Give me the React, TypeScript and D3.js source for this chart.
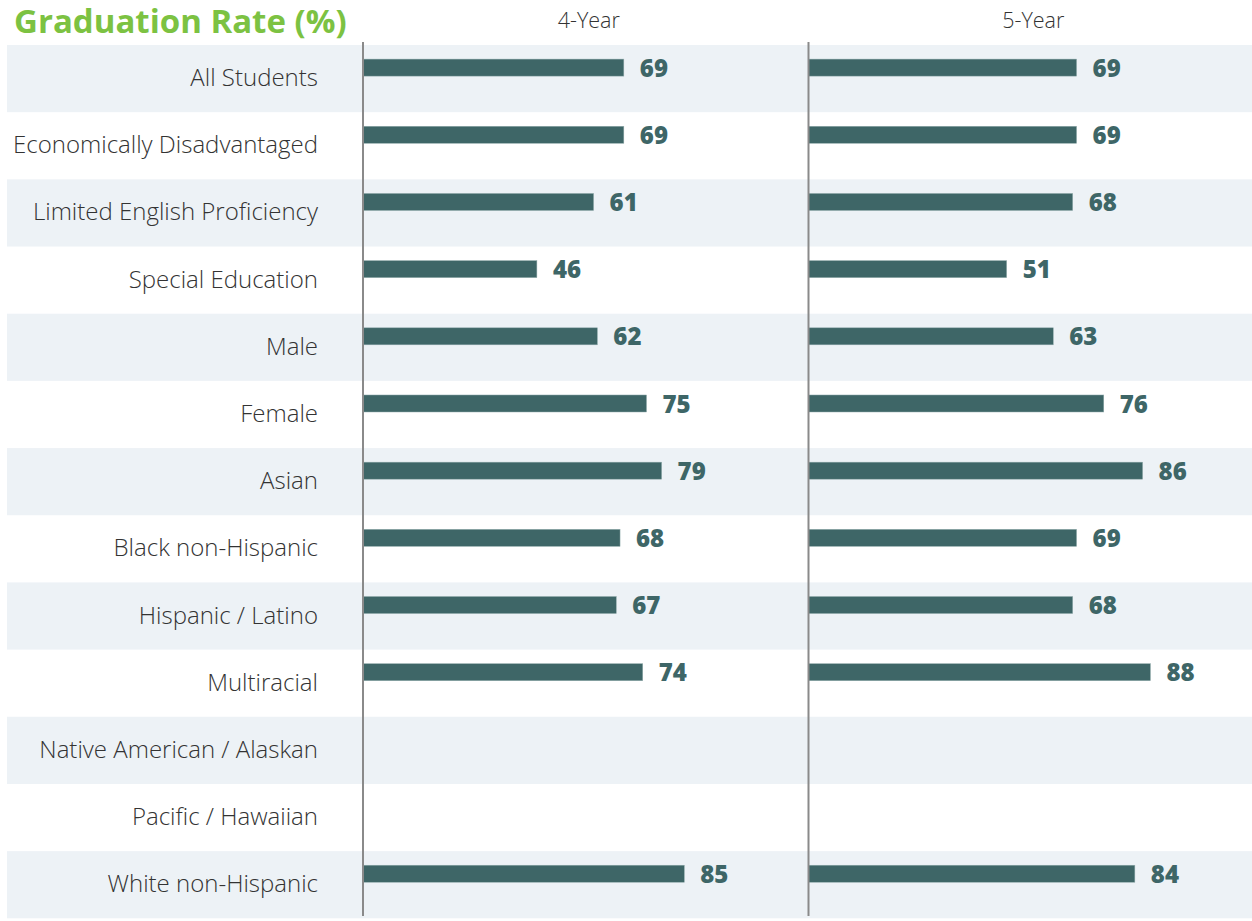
import React from "react";
import * as d3 from "d3";

const categories: string[] = [
  "All Students",
  "Economically Disadvantaged",
  "Limited English Proficiency",
  "Special Education",
  "Male",
  "Female",
  "Asian",
  "Black non-Hispanic",
  "Hispanic / Latino",
  "Multiracial",
  "Native American / Alaskan",
  "Pacific / Hawaiian",
  "White non-Hispanic",
];

const fourYear: (number | null)[] = [69, 69, 61, 46, 62, 75, 79, 68, 67, 74, null, null, 85];
const fiveYear: (number | null)[] = [69, 69, 68, 51, 63, 76, 86, 69, 68, 88, null, null, 84];

const panelTitles: string[] = ["4-Year", "5-Year"];
const chartTitle = "Graduation Rate (%)";

const W = 1252;
const H = 921;
const FONT = "'Open Sans', 'Noto Sans', sans-serif";
const BAR = "#3e6667";
const STRIPE = "#edf2f6";
const GREEN = "#7cc242";

export default function App() {
  const y = d3.scaleBand<string>().domain(categories).range([45, 918.3]).padding(0);
  const bw = y.bandwidth();

  const panels = [
    { title: panelTitles[0], values: fourYear, x: d3.scaleLinear().domain([0, 100]).range([363, 741]) },
    { title: panelTitles[1], values: fiveYear, x: d3.scaleLinear().domain([0, 100]).range([808.5, 1197]) },
  ];
  const panelEdges = [363, 808.5, W];

  return (
    <svg
      width={W}
      height={H}
      style={{ position: "absolute", left: 0, top: 0, background: "#fff" }}
      fontFamily={FONT}
    >
      {categories.map((c, i) =>
        i % 2 === 0 ? (
          <rect key={"s" + c} x={7} y={y(c)} width={W - 7} height={bw} fill={STRIPE} />
        ) : null
      )}
      <text x={14} y={33} fontSize={33} fontWeight={700} fill={GREEN}>
        {chartTitle}
      </text>
      {categories.map((c) => (
        <text
          key={"l" + c}
          x={318}
          y={(y(c) as number) + bw / 2 + 7.5}
          textAnchor="end"
          fontSize={24}
          fontWeight={300}
          fill="#333"
        >
          {c}
        </text>
      ))}
      {panels.map((p, pi) => (
        <g key={p.title}>
          <text
            x={(panelEdges[pi] + panelEdges[pi + 1]) / 2 + 3}
            y={28}
            textAnchor="middle"
            fontSize={21.5}
            fontWeight={300}
            fill="#333"
          >
            {p.title}
          </text>
          {categories.map((c, i) => {
            const v = p.values[i];
            if (v == null) return null;
            const top = (y(c) as number) + bw * 0.21;
            return (
              <g key={c}>
                <rect
                  x={p.x(0)}
                  y={top}
                  width={p.x(v) - p.x(0)}
                  height={17}
                  fill={BAR}
                  stroke="#8fa9aa"
                  strokeWidth={0.5}
                />
                <text
                  x={p.x(v) + 16}
                  y={top + 17.6}
                  fontSize={24}
                  fontWeight={800}
                  fill={BAR}
                >
                  {v}
                </text>
              </g>
            );
          })}
          <line x1={p.x(0)} x2={p.x(0)} y1={42} y2={916} stroke="#8a8a8a" strokeWidth={2} />
        </g>
      ))}
    </svg>
  );
}
